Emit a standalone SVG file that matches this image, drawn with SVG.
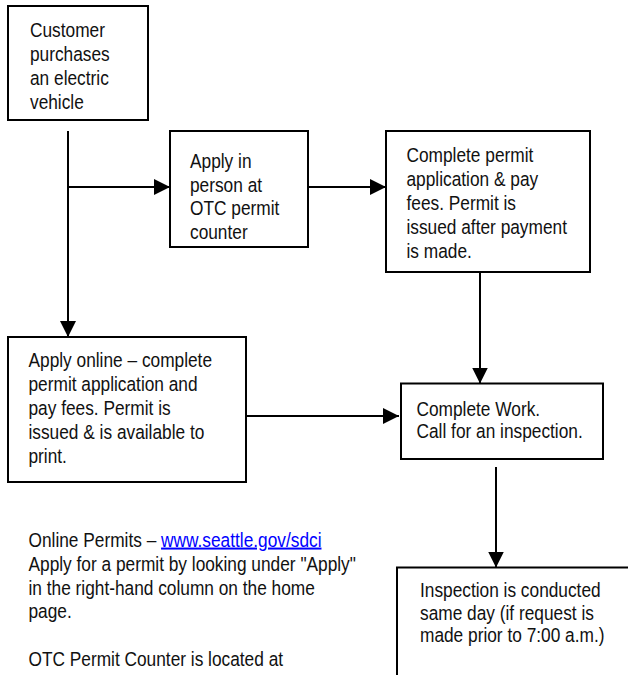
<svg xmlns="http://www.w3.org/2000/svg" width="628" height="675" viewBox="0 0 628 675">
  <style>
    .box { fill: #ffffff; stroke: #000000; stroke-width: 2; }
    .conn { fill: none; stroke: #000000; stroke-width: 2; }
    .t { font-family: "Liberation Sans", Arial, sans-serif; font-size: 17.3px; fill: #111111; }
    .link { fill: #0000ff; text-decoration: underline; }
  </style>
  <defs>
    <marker id="arrow" markerUnits="userSpaceOnUse" markerWidth="16" markerHeight="16" refX="16" refY="8" orient="auto">
      <path d="M0,0 L16,8 L0,16 Z" fill="#000000"/>
    </marker>
  </defs>
  <rect width="628" height="675" fill="#ffffff"/>

  <g id="connectors">
    <path class="conn" d="M68,131 V337" marker-end="url(#arrow)"/>
    <path class="conn" d="M68,187 H170" marker-end="url(#arrow)"/>
    <path class="conn" d="M308,187 H386" marker-end="url(#arrow)"/>
    <path class="conn" d="M480,272 V383.5" marker-end="url(#arrow)"/>
    <path class="conn" d="M246,416 H399" marker-end="url(#arrow)"/>
    <path class="conn" d="M496,467 V567.5" marker-end="url(#arrow)"/>
  </g>

  <g id="node-customer">
    <rect class="box" x="8" y="6" width="140" height="114"/>
    <text class="t" transform="translate(30,37) scale(1,1.15)">
      <tspan x="0" y="0">Customer</tspan>
      <tspan x="0" y="21">purchases</tspan>
      <tspan x="0" y="42">an electric</tspan>
      <tspan x="0" y="63">vehicle</tspan>
    </text>
  </g>

  <g id="node-in-person">
    <rect class="box" x="170" y="131" width="138" height="116"/>
    <text class="t" transform="translate(190,168) scale(1,1.15)">
      <tspan x="0" y="0">Apply in</tspan>
      <tspan x="0" y="20.5">person at</tspan>
      <tspan x="0" y="41">OTC permit</tspan>
      <tspan x="0" y="61.5">counter</tspan>
    </text>
  </g>

  <g id="node-complete-permit">
    <rect class="box" x="386" y="131" width="204" height="141"/>
    <text class="t" transform="translate(406.5,161.5) scale(1,1.15)">
      <tspan x="0" y="0">Complete permit</tspan>
      <tspan x="0" y="21">application &amp; pay</tspan>
      <tspan x="0" y="42">fees. Permit is</tspan>
      <tspan x="0" y="63">issued after payment</tspan>
      <tspan x="0" y="84">is made.</tspan>
    </text>
  </g>

  <g id="node-online">
    <rect class="box" x="8" y="337" width="238" height="145"/>
    <text class="t" transform="translate(28.5,366.5) scale(1,1.15)">
      <tspan x="0" y="0">Apply online – complete</tspan>
      <tspan x="0" y="21">permit application and</tspan>
      <tspan x="0" y="42">pay fees. Permit is</tspan>
      <tspan x="0" y="63">issued &amp; is available to</tspan>
      <tspan x="0" y="84">print.</tspan>
    </text>
  </g>

  <g id="node-complete-work">
    <rect class="box" x="401" y="383.5" width="202" height="75.5"/>
    <text class="t" transform="translate(416.5,416) scale(1,1.15)">
      <tspan x="0" y="0">Complete Work.</tspan>
      <tspan x="0" y="19.4">Call for an inspection.</tspan>
    </text>
  </g>

  <g id="node-inspection">
    <rect class="box" x="397" y="567.5" width="240" height="120"/>
    <text class="t" transform="translate(420,597) scale(1,1.15)">
      <tspan x="0" y="0">Inspection is conducted</tspan>
      <tspan x="0" y="19.6">same day (if request is</tspan>
      <tspan x="0" y="39.2">made prior to 7:00 a.m.)</tspan>
    </text>
  </g>

  <g id="notes">
    <text class="t" transform="translate(28.5,546.5) scale(1,1.15)">
      <tspan x="0" y="0">Online Permits – <tspan class="link">www.seattle.gov/sdci</tspan></tspan>
      <tspan x="0" y="20.9">Apply for a permit by looking under "Apply"</tspan>
      <tspan x="0" y="41.8">in the right-hand column on the home</tspan>
      <tspan x="0" y="62.6">page.</tspan>
      <tspan x="0" y="104.3">OTC Permit Counter is located at</tspan>
    </text>
  </g>
</svg>
